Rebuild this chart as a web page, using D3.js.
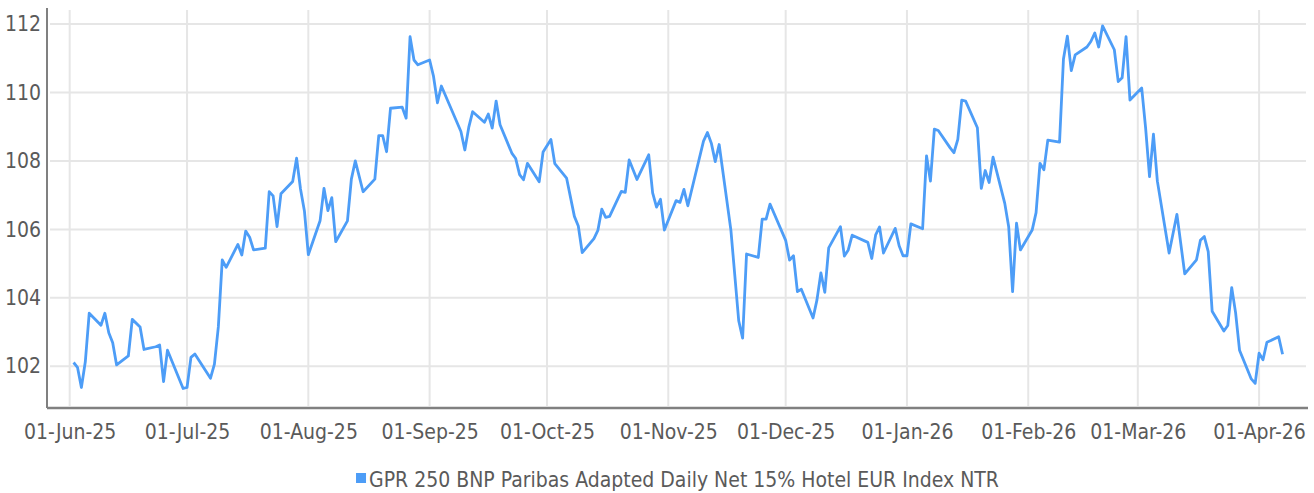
<!DOCTYPE html>
<html>
<head>
<meta charset="utf-8">
<script src="https://cdn.jsdelivr.net/npm/d3@7/dist/d3.min.js"></script>
<style>
  body { margin: 0; background: #fff; }
  svg text { font-family: "Liberation Sans Narrow", "DejaVu Sans Condensed", "Roboto", sans-serif; fill: #5a5a5a; }
</style>
</head>
<body>
<svg id="chart" width="1314" height="493"></svg>
<script>
// series name
const seriesName = "GPR 250 BNP Paribas Adapted Daily Net 15% Hotel EUR Index NTR";

// trading days
const dates = [
  "2025-06-02","2025-06-03","2025-06-04","2025-06-05","2025-06-06","2025-06-09","2025-06-10","2025-06-11","2025-06-12","2025-06-13",
  "2025-06-16","2025-06-17","2025-06-19","2025-06-20","2025-06-23","2025-06-24","2025-06-25","2025-06-26","2025-06-30",
  "2025-07-01","2025-07-02","2025-07-03","2025-07-07","2025-07-08","2025-07-09","2025-07-10","2025-07-11","2025-07-14","2025-07-15",
  "2025-07-16","2025-07-17","2025-07-18","2025-07-21","2025-07-22","2025-07-23","2025-07-24","2025-07-25","2025-07-28","2025-07-29",
  "2025-07-30","2025-07-31","2025-08-01","2025-08-04","2025-08-05","2025-08-06","2025-08-07","2025-08-08","2025-08-11","2025-08-12",
  "2025-08-13","2025-08-15","2025-08-18","2025-08-19","2025-08-20","2025-08-21","2025-08-22","2025-08-25","2025-08-26","2025-08-27",
  "2025-08-28","2025-08-29","2025-09-01","2025-09-02","2025-09-03","2025-09-04","2025-09-09","2025-09-10","2025-09-11","2025-09-12",
  "2025-09-15","2025-09-16","2025-09-17","2025-09-18","2025-09-19","2025-09-22","2025-09-23","2025-09-24","2025-09-25","2025-09-26",
  "2025-09-29","2025-09-30","2025-10-02","2025-10-03","2025-10-06","2025-10-08","2025-10-09","2025-10-10","2025-10-13","2025-10-14",
  "2025-10-15","2025-10-16","2025-10-17","2025-10-20","2025-10-21","2025-10-22","2025-10-24","2025-10-27","2025-10-28","2025-10-29",
  "2025-10-30","2025-10-31","2025-11-03","2025-11-04","2025-11-05","2025-11-06","2025-11-10","2025-11-11","2025-11-12","2025-11-13",
  "2025-11-14","2025-11-17","2025-11-19","2025-11-20","2025-11-21","2025-11-24","2025-11-25","2025-11-26","2025-11-27",
  "2025-12-01","2025-12-02","2025-12-03","2025-12-04","2025-12-05","2025-12-08","2025-12-09","2025-12-10","2025-12-11","2025-12-12",
  "2025-12-15","2025-12-16","2025-12-17","2025-12-18","2025-12-22","2025-12-23","2025-12-24","2025-12-25","2025-12-26","2025-12-29",
  "2025-12-30","2025-12-31","2026-01-01","2026-01-02","2026-01-05","2026-01-06","2026-01-07","2026-01-08","2026-01-09","2026-01-12",
  "2026-01-13","2026-01-14","2026-01-15","2026-01-16","2026-01-19","2026-01-20","2026-01-21","2026-01-22","2026-01-23","2026-01-26",
  "2026-01-27","2026-01-28","2026-01-29","2026-01-30","2026-02-02","2026-02-03","2026-02-04","2026-02-05","2026-02-06","2026-02-09",
  "2026-02-10","2026-02-11","2026-02-12","2026-02-13","2026-02-16","2026-02-17","2026-02-18","2026-02-19","2026-02-20","2026-02-23",
  "2026-02-24","2026-02-25","2026-02-26","2026-02-27","2026-03-02","2026-03-03","2026-03-04","2026-03-05","2026-03-06","2026-03-09",
  "2026-03-11","2026-03-13","2026-03-16","2026-03-17","2026-03-18","2026-03-19","2026-03-20","2026-03-23","2026-03-24","2026-03-25",
  "2026-03-26","2026-03-27","2026-03-30","2026-03-31","2026-04-01","2026-04-02","2026-04-03","2026-04-06","2026-04-07"
];

const values = [
  102.11,101.97,101.38,102.13,103.55,103.20,103.55,102.98,102.69,102.04,
  102.30,103.37,103.15,102.49,102.57,102.62,101.55,102.47,101.35,
  101.38,102.26,102.36,101.65,102.06,103.15,105.11,104.89,105.56,105.25,
  105.95,105.77,105.40,105.45,107.10,106.98,106.08,107.04,107.40,108.08,
  107.18,106.54,105.26,106.25,107.20,106.55,106.93,105.64,106.25,107.47,
  108.00,107.10,107.47,108.74,108.74,108.27,109.54,109.57,109.25,111.63,
  110.95,110.81,110.95,110.47,109.70,110.19,108.86,108.32,108.98,109.44,
  109.13,109.37,108.96,109.75,109.06,108.23,108.07,107.60,107.45,107.93,
  107.39,108.26,108.63,107.92,107.50,106.38,106.10,105.32,105.73,105.97,
  106.59,106.35,106.38,107.11,107.08,108.03,107.46,108.18,107.07,106.65,
  106.88,105.98,106.84,106.79,107.17,106.69,108.58,108.83,108.52,107.98,
  108.48,105.98,103.33,102.82,105.28,105.18,106.30,106.30,106.74,
  105.68,105.10,105.23,104.18,104.25,103.41,103.94,104.73,104.16,105.46,
  106.08,105.22,105.40,105.83,105.62,105.15,105.84,106.07,105.31,106.03,
  105.52,105.23,105.23,106.16,106.02,108.15,107.41,108.93,108.89,108.39,
  108.24,108.63,109.78,109.75,108.97,107.20,107.72,107.37,108.11,106.76,
  106.08,104.18,106.18,105.40,105.98,106.49,107.93,107.74,108.61,108.55,
  110.98,111.65,110.64,111.10,111.33,111.49,111.74,111.33,111.95,111.25,
  110.32,110.43,111.63,109.78,110.13,108.96,107.54,108.78,107.41,105.31,
  106.44,104.70,105.11,105.68,105.79,105.35,103.61,103.03,103.19,104.30,
  103.56,102.47,101.63,101.50,102.38,102.19,102.70,102.86,102.35
];

const yTicks = [102, 104, 106, 108, 110, 112];

const parse = d3.timeParse("%Y-%m-%d");
const data = dates.map((d, i) => ({date: parse(d), value: values[i]}));

const svg = d3.select("#chart");
const m = {left: 47, right: 1308, top: 8, bottom: 408};

const x = d3.scaleTime()
  .domain([new Date(2025, 4, 26, 5), new Date(2026, 3, 13, 12)])
  .range([m.left, m.right]);
const y = d3.scaleLinear()
  .domain([100.78, 112.47])
  .range([m.bottom, m.top]);

const months = d3.timeMonth.range(new Date(2025, 5, 1), new Date(2026, 3, 2));

// grid
svg.append("g").selectAll("line")
  .data(yTicks).enter().append("line")
  .attr("x1", m.left + 3).attr("x2", m.right - 2)
  .attr("y1", d => y(d)).attr("y2", d => y(d))
  .attr("stroke", "#e6e6e6").attr("stroke-width", 2);

svg.append("g").selectAll("line")
  .data(months).enter().append("line")
  .attr("x1", d => x(d)).attr("x2", d => x(d))
  .attr("y1", 10).attr("y2", m.bottom - 2)
  .attr("stroke", "#e6e6e6").attr("stroke-width", 2);

// axes
const xAxis = d3.axisBottom(x)
  .tickValues(months)
  .tickFormat(d3.timeFormat("%d-%b-%y"))
  .tickSize(0).tickPadding(16);
const gx = svg.append("g")
  .attr("transform", "translate(0," + m.bottom + ")")
  .call(xAxis);
gx.select(".domain").remove();
gx.selectAll("text").style("font-size", "21px");

const yAxis = d3.axisLeft(y)
  .tickValues(yTicks)
  .tickSize(0).tickPadding(6);
const gy = svg.append("g")
  .attr("transform", "translate(" + m.left + ",0)")
  .call(yAxis);
gy.select(".domain").remove();
gy.selectAll("text").style("font-size", "21px");

svg.append("line")
  .attr("x1", m.left).attr("x2", m.left)
  .attr("y1", m.top).attr("y2", m.bottom)
  .attr("stroke", "#808080").attr("stroke-width", 2);
svg.append("line")
  .attr("x1", m.left).attr("x2", m.right)
  .attr("y1", m.bottom).attr("y2", m.bottom)
  .attr("stroke", "#808080").attr("stroke-width", 2.5);

// series
const line = d3.line()
  .x(d => x(d.date))
  .y(d => y(d.value));
svg.append("path")
  .datum(data)
  .attr("d", line)
  .attr("fill", "none")
  .attr("stroke", "#4d9df7")
  .attr("stroke-width", 2.8)
  .attr("stroke-linejoin", "round");

// legend
const legend = svg.append("g");
legend.append("rect")
  .attr("x", 0).attr("y", -14)
  .attr("width", 10).attr("height", 10)
  .attr("fill", "#4d9df7");
const lt = legend.append("text")
  .attr("x", 13).attr("y", 0)
  .style("font-size", "21px")
  .text(seriesName);
const lw = 13 + lt.node().getComputedTextLength();
legend.attr("transform", "translate(" + ((m.left + m.right) / 2 - lw / 2) + ",487)");
</script>
</body>
</html>
